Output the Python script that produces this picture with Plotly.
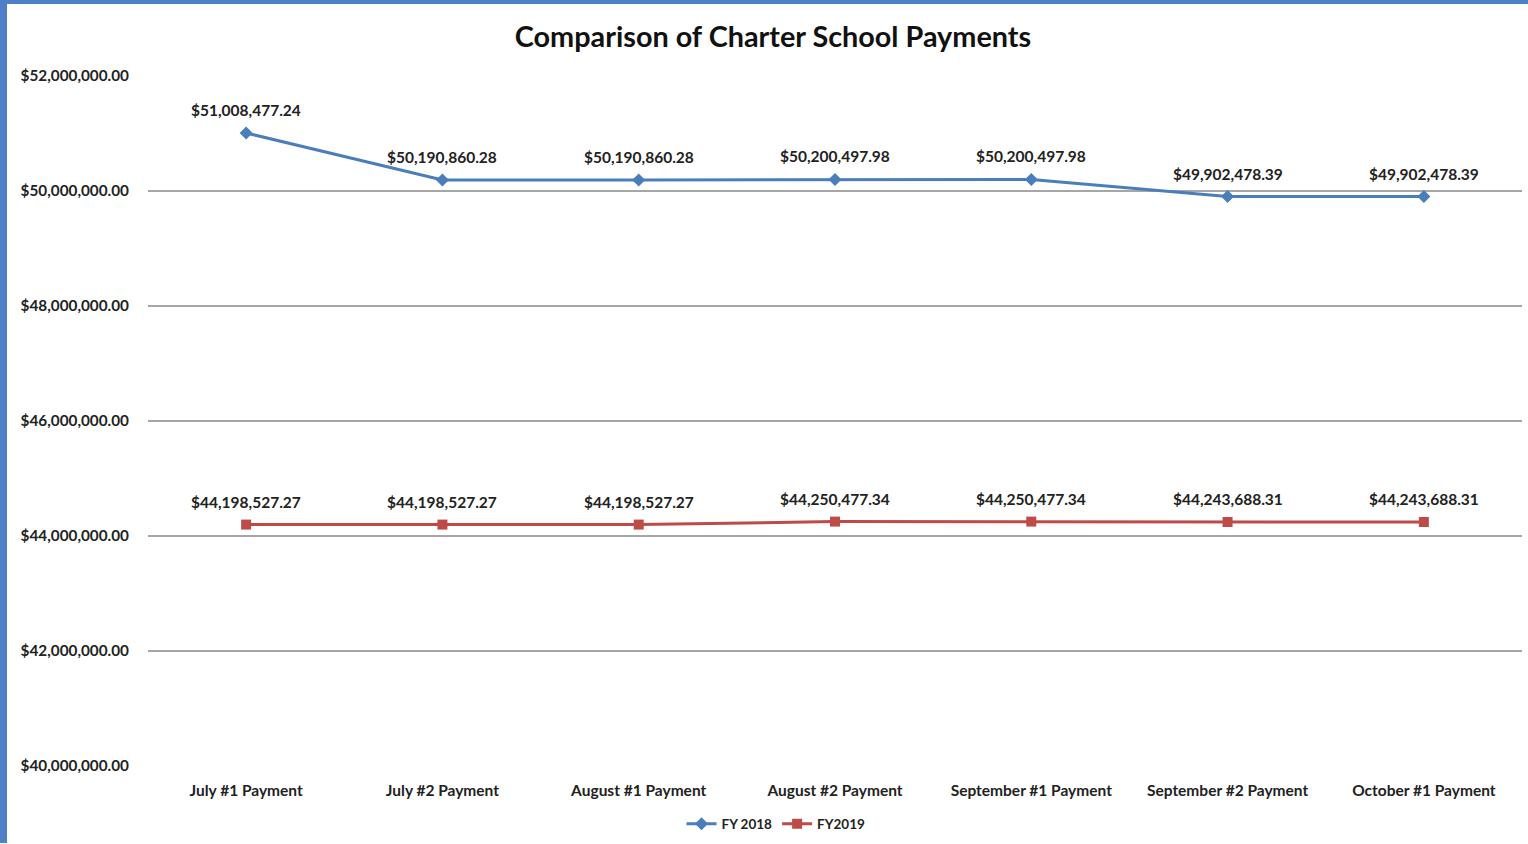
import plotly.graph_objects as go

categories = ["July #1 Payment", "July #2 Payment", "August #1 Payment", "August #2 Payment",
              "September #1 Payment", "September #2 Payment", "October #1 Payment"]
fy2018 = [51008477.24, 50190860.28, 50190860.28, 50200497.98, 50200497.98, 49902478.39, 49902478.39]
fy2019 = [44198527.27, 44198527.27, 44198527.27, 44250477.34, 44250477.34, 44243688.31, 44243688.31]
tick_vals = [40000000, 42000000, 44000000, 46000000, 48000000, 50000000, 52000000]

def money(v):
    return "${:,.2f}".format(v)

FONT = "Lato, 'Open Sans', sans-serif"
TXT = "#222222"

fig = go.Figure()
fig.add_trace(go.Scatter(
    x=categories, y=fy2018, name="FY 2018", mode="lines+markers",
    line=dict(color="#4A7EBB", width=3),
    marker=dict(symbol="diamond", size=10, color="#4A7EBB"),
    cliponaxis=False,
))
fig.add_trace(go.Scatter(
    x=categories, y=fy2019, name="FY2019", mode="lines+markers",
    line=dict(color="#BE4B48", width=3),
    marker=dict(symbol="square", size=10, color="#BE4B48"),
    cliponaxis=False,
))

annotations = []
for series in (fy2018, fy2019):
    for c, v in zip(categories, series):
        annotations.append(dict(x=c, y=v, xref="x", yref="y", text="<b>" + money(v) + "</b>",
                                showarrow=False, yshift=23, xanchor="center", yanchor="middle",
                                font=dict(family=FONT, size=15.5, color=TXT)))

L, R, T, B = 148, 6, 76, 77
W, H = 1528, 844
pw, ph = W - L - R, H - T - B

def px_x(p):
    return (p - L) / pw

def px_y(p):
    return (H - B - p) / ph

fig.update_layout(
    width=W, height=H,
    margin=dict(l=L, r=R, t=T, b=B),
    paper_bgcolor="white", plot_bgcolor="white",
    title=dict(text="<b>Comparison of Charter School Payments</b>", x=773 / W, xanchor="center",
               y=1 - 37 / H, yanchor="middle",
               font=dict(family=FONT, size=28.8, color="#111111")),
    font=dict(family=FONT, color=TXT),
    showlegend=True,
    legend=dict(orientation="h", x=px_x(776), xanchor="center",
                y=px_y(824), yanchor="middle",
                font=dict(family=FONT, size=13.5, color=TXT, weight="bold"),
                itemwidth=30, tracegroupgap=0),
    xaxis=dict(
        type="category", range=[-0.5, 6.5], showgrid=False, showline=False,
        ticks="", tickfont=dict(family=FONT, size=15.5, color=TXT, weight="bold"),
        ticklabelstandoff=13,
    ),
    yaxis=dict(
        range=[40000000, 52000000], tickvals=tick_vals,
        ticktext=[money(v) for v in tick_vals],
        showgrid=True, gridcolor="#A6A6A6", gridwidth=1.5, zeroline=False, showline=False,
        tickfont=dict(family=FONT, size=15.3, color=TXT, weight="bold"),
        ticklabelstandoff=18,
    ),
    annotations=annotations,
    shapes=[
        dict(type="rect", xref="paper", yref="paper", x0=px_x(0), x1=px_x(7), y0=px_y(H), y1=px_y(0),
             fillcolor="#4F7FC4", line=dict(width=0), layer="below"),
        dict(type="rect", xref="paper", yref="paper", x0=px_x(0), x1=px_x(W), y0=px_y(4), y1=px_y(0),
             fillcolor="#4F7FC4", line=dict(width=0), layer="below"),
    ],
)

fig.write_html("out.html", config={"displayModeBar": False},
               post_script="document.body.style.margin='0';document.body.style.padding='0';")
